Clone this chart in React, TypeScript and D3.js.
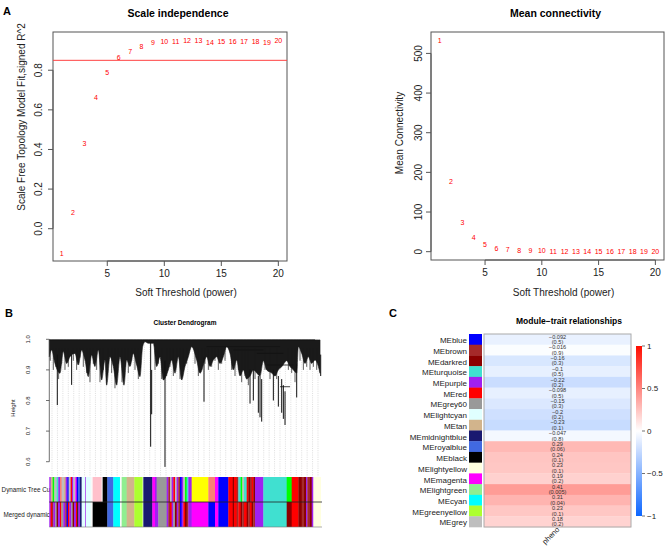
import React from "react";
import * as d3 from "d3";

const FONT = "'Liberation Sans', Arial, Helvetica, sans-serif";

// ---- panel A: soft threshold ----
const powers = [1, 2, 3, 4, 5, 6, 7, 8, 9, 10, 11, 12, 13, 14, 15, 16, 17, 18, 19, 20];
const sftR2 = [-0.123, 0.08, 0.43, 0.66, 0.79, 0.864, 0.896, 0.918, 0.94, 0.945, 0.947, 0.952, 0.95, 0.942, 0.947, 0.945, 0.943, 0.945, 0.938, 0.95];
const meanK = [533, 176, 73, 35, 17, 9, 5.5, 3.6, 2.5, 1.8, 1.4, 1.1, 0.9, 0.7, 0.6, 0.5, 0.45, 0.4, 0.35, 0.3];
const r2Cutoff = 0.85;
const powerTicks = [5, 10, 15, 20];
const fitTicks = [0, 0.2, 0.4, 0.6, 0.8];
const kTicks = [0, 100, 200, 300, 400, 500];

// ---- panel B: dendrogram (leaf order 0..814) ----
const envX = [0, 7, 17, 32, 42, 52, 62, 77, 87, 97, 107, 117, 127, 137, 147, 157, 167, 172, 182, 192, 202, 212, 224, 232, 242, 252, 262, 272, 280, 287, 297, 312, 322, 332, 342, 357, 367, 377, 387, 397, 407, 417, 427, 442, 452, 472, 482, 492, 502, 512, 522, 532, 542, 552, 562, 572, 582, 592, 602, 612, 622, 632, 642, 652, 667, 677, 687, 697, 712, 722, 732, 742, 747, 757, 767, 777, 787, 797, 807, 812];
const envH = [0.943, 0.965, 0.921, 0.889, 0.96, 0.921, 0.943, 0.954, 0.916, 0.965, 0.932, 0.878, 0.949, 0.911, 0.965, 0.867, 0.932, 0.85, 0.943, 0.911, 0.85, 0.943, 0.85, 0.932, 0.911, 0.954, 0.916, 0.878, 0.976, 0.992, 0.987, 0.987, 0.911, 0.943, 0.867, 0.9, 0.932, 0.889, 0.943, 0.867, 0.911, 0.943, 0.976, 0.932, 0.889, 0.943, 0.911, 0.932, 0.943, 0.921, 0.943, 0.976, 0.954, 0.9, 0.932, 0.88, 0.9, 0.87, 0.88, 0.9, 0.89, 0.88, 0.93, 0.9, 0.89, 0.88, 0.9, 0.91, 0.93, 0.911, 0.9, 0.89, 0.976, 0.954, 0.921, 0.943, 0.921, 0.932, 0.911, 0.889];
// single leaves hanging below the dense mass: [leaf, lowest height]
const hairs: [number, number][] = [
  [3, 0.93], [12, 0.9], [20, 0.91], [28, 0.87], [37, 0.92], [47, 0.9], [57, 0.91], [72, 0.93], [82, 0.9],
  [92, 0.94], [102, 0.91], [112, 0.89], [122, 0.86], [132, 0.92], [142, 0.9], [152, 0.86], [162, 0.9],
  [177, 0.92], [187, 0.89], [197, 0.84], [207, 0.92], [218, 0.86], [228, 0.91], [237, 0.89], [247, 0.93],
  [257, 0.9], [267, 0.87], [317, 0.9], [327, 0.92], [337, 0.87], [352, 0.88], [362, 0.91], [372, 0.88],
  [382, 0.93], [392, 0.87], [402, 0.9], [412, 0.92], [437, 0.92], [447, 0.88], [457, 0.9], [467, 0.92],
  [477, 0.9], [487, 0.91], [497, 0.93], [507, 0.9], [517, 0.92], [527, 0.93], [547, 0.9], [557, 0.88],
  [567, 0.9], [577, 0.86], [587, 0.88], [597, 0.85], [617, 0.87], [647, 0.9], [662, 0.87], [682, 0.87],
  [717, 0.9], [727, 0.89], [737, 0.86], [752, 0.93], [762, 0.9], [772, 0.91], [782, 0.9], [792, 0.91], [802, 0.9]
];
// [leaf, from height, to height]
const spikes: [number, number, number][] = [
  [24, 0.95, 0.785], [67, 0.95, 0.851], [304, 0.99, 0.649], [307, 0.9, 0.755], [347, 0.93, 0.583],
  [464, 0.94, 0.796], [602, 0.9, 0.79], [612, 0.9, 0.8], [627, 0.88, 0.76], [632, 0.88, 0.745],
  [637, 0.87, 0.731], [672, 0.9, 0.8], [687, 0.88, 0.78], [697, 0.87, 0.76], [702, 0.85, 0.74],
  [707, 0.83, 0.72], [742, 0.92, 0.81], [814, 0.95, 0.88]
];
// [leaf from, leaf to, height]
const merges: [number, number, number][] = [
  [0, 797, 0.998], [472, 692, 0.976], [552, 642, 0.965], [622, 702, 0.954], [652, 732, 0.916], [692, 722, 0.845]
];
const dendroTicks = [0.6, 0.7, 0.8, 0.9, 1.0];

// colour rows: [start leaf, colour]
const dynStarts = [0, 4, 10, 15, 22, 27, 32, 37, 44, 49, 54, 58, 64, 68, 72, 78, 82, 86, 92, 97, 108, 110, 124, 130, 157, 160, 174, 192, 212, 217, 232, 255, 280, 282, 309, 317, 322, 352, 357, 362, 367, 372, 377, 382, 387, 392, 397, 402, 407, 412, 417, 427, 477, 497, 507, 537, 550, 554, 562, 567, 574, 579, 584, 592, 597, 602, 607, 612, 617, 642, 712, 727, 747, 757, 764, 770, 774, 782, 787, 792];
const dynColors = ["purple", "tan", "green", "grey", "turquoise", "purple", "salmon", "grey", "tan", "purple", "blue", "grey", "red", "purple", "grey", "magenta", "blue", "royalblue", "midnightblue", "lightcyan", "purple", "lightcyan", "white", "pink", "white", "black", "royalblue", "cyan", "white", "lightgreen", "tan", "greenyellow", "white", "midnightblue", "magenta", "purple", "grey60", "purple", "brown", "grey", "purple", "red", "grey", "purple", "brown", "blue", "purple", "grey", "green", "turquoise", "purple", "yellow", "salmon", "magenta", "blue", "red", "darkred", "red", "brown", "turquoise", "green", "grey", "turquoise", "red", "darkred", "brown", "red", "darkred", "purple", "turquoise", "green", "red", "darkred", "brown", "darkred", "purple", "brown", "darkred", "purple", "lightyellow"];
const mrgStarts = [0, 4, 8, 12, 18, 22, 26, 32, 36, 42, 48, 52, 56, 60, 66, 70, 74, 80, 84, 87, 92, 97, 108, 110, 124, 130, 174, 192, 212, 217, 232, 255, 280, 282, 309, 317, 327, 352, 357, 362, 367, 372, 377, 382, 387, 392, 397, 402, 407, 412, 417, 427, 477, 497, 507, 537, 550, 554, 562, 567, 574, 579, 584, 592, 597, 602, 607, 612, 617, 642, 712, 727, 747, 757, 764, 770, 774, 782, 787, 792];
const mrgColors = ["purple", "red", "brown", "purple", "grey60", "darkred", "purple", "red", "grey60", "purple", "brown", "blue", "red", "purple", "grey60", "darkred", "purple", "red", "black", "purple", "midnightblue", "lightcyan", "purple", "lightcyan", "white", "black", "royalblue", "cyan", "white", "lightgreen", "tan", "greenyellow", "white", "midnightblue", "magenta", "purple", "grey60", "purple", "brown", "red", "purple", "grey60", "darkred", "purple", "brown", "blue", "purple", "red", "darkred", "brown", "purple", "magenta", "blue", "magenta", "blue", "red", "darkred", "red", "brown", "red", "darkred", "brown", "red", "darkred", "brown", "red", "darkred", "brown", "purple", "turquoise", "darkred", "red", "darkred", "brown", "darkred", "purple", "brown", "darkred", "purple", "lightyellow"];
const leafCount = 814;

// ---- panel C: module-trait ----
const modules = ["MEblue", "MEbrown", "MEdarkred", "MEturquoise", "MEpurple", "MEred", "MEgrey60", "MElightcyan", "MEtan", "MEmidnightblue", "MEroyalblue", "MEblack", "MElightyellow", "MEmagenta", "MElightgreen", "MEcyan", "MEgreenyellow", "MEgrey"];
const moduleColors = ["blue", "brown", "darkred", "turquoise", "purple", "red", "grey60", "lightcyan", "tan", "midnightblue", "royalblue", "black", "lightyellow", "magenta", "lightgreen", "cyan", "greenyellow", "grey"];
const corValues = [-0.092, -0.016, -0.16, -0.1, -0.22, -0.098, -0.15, -0.2, -0.23, -0.047, 0.29, 0.24, 0.23, 0.19, 0.41, 0.31, 0.23, 0.18];
const pLabels = ["0.5", "0.9", "0.3", "0.5", "0.2", "0.5", "0.3", "0.2", "0.1", "0.8", "0.06", "0.1", "0.1", "0.2", "0.005", "0.04", "0.1", "0.2"];
const legendTicks = [1, 0.5, 0, -0.5, -1];

const rColor: Record<string, string> = {
  purple: "#A020F0", tan: "#D2B48C", green: "#00FF00", grey: "#BEBEBE", grey60: "#999999",
  turquoise: "#40E0D0", salmon: "#FA8072", blue: "#0000FF", red: "#FF0000", magenta: "#FF00FF",
  royalblue: "#4169E1", midnightblue: "#191970", lightcyan: "#E0FFFF", pink: "#FFC0CB",
  black: "#000000", cyan: "#00FFFF", lightgreen: "#90EE90", greenyellow: "#ADFF2F",
  brown: "#A52A2A", yellow: "#FFFF00", darkred: "#8B0000", lightyellow: "#FFFFE0", white: "#FAFAFA"
};

const fmt = (v: number) => (v < 0 ? "\u2212" + String(-v) : String(v));

function ScatterPanel({ values, yTicks, x0, x1, y0, y1, yDomain, title, ylab, ylabX, ylabY, tickX, cutoff }: any) {
  const x = d3.scaleLinear().domain([0.24, 20.76]).range([x0, x1]);
  const y = d3.scaleLinear().domain(yDomain).range([y1, y0]);
  return (
    <g fontFamily={FONT}>
      <text x={(x0 + x1) / 2 + 8} y={17} textAnchor="middle" fontWeight="bold" fontSize={10.5}>{title}</text>
      <rect x={x0} y={y0} width={x1 - x0} height={y1 - y0} fill="none" stroke="#555" strokeWidth={1} />
      {cutoff !== undefined && (
        <line x1={x0} x2={x1} y1={y(cutoff)} y2={y(cutoff)} stroke="#ff4040" strokeWidth={1} />
      )}
      {values.map((v: number, i: number) => (
        <text key={i} x={x(powers[i])} y={y(v)} dy="0.35em" textAnchor="middle" fontSize={7} fill="#ff0000">{powers[i]}</text>
      ))}
      <line x1={x(powerTicks[0])} x2={x(powerTicks[powerTicks.length - 1])} y1={y1} y2={y1} stroke="#555" />
      {powerTicks.map((t) => (
        <g key={t}>
          <line x1={x(t)} x2={x(t)} y1={y1} y2={y1 + 5} stroke="#555" />
          <text x={x(t)} y={y1 + 16} textAnchor="middle" fontSize={10} fill="#222">{t}</text>
        </g>
      ))}
      <line x1={x0} x2={x0} y1={y(yTicks[0])} y2={y(yTicks[yTicks.length - 1])} stroke="#555" />
      {yTicks.map((t: number) => (
        <g key={t}>
          <line x1={x0} x2={x0 - 5} y1={y(t)} y2={y(t)} stroke="#555" />
          <text transform={`translate(${tickX},${y(t)}) rotate(-90)`} textAnchor="middle" fontSize={10} fill="#222">
            {yDomain[1] < 2 ? t.toFixed(1) : t}
          </text>
        </g>
      ))}
      <text x={(x0 + x1) / 2 + 16} y={296} textAnchor="middle" fontSize={10} fill="#222">Soft Threshold (power)</text>
      <text transform={`translate(${ylabX},${ylabY}) rotate(-90)`} textAnchor="middle" fontSize={10} fill="#222">{ylab}</text>
    </g>
  );
}

function Dendrogram() {
  const bx = d3.scaleLinear().domain([0, leafCount]).range([49.3, 320.7]);
  const by = d3.scaleLinear().domain([0.551, 1.0]).range([476.7, 339.3]);
  const env = envX.map((v, i) => [v, envH[i]] as [number, number]);
  const area = d3.area<[number, number]>().x((d) => bx(d[0])).y0(by(0.998)).y1((d) => by(d[1])).curve(d3.curveMonotoneX);
  const guides = d3.range(0, 50).map((i) => (i + 0.5) * (leafCount / 50));
  const row = (starts: number[], colors: string[], yTop: number) =>
    starts.map((s, i) => {
      const e = i < starts.length - 1 ? starts[i + 1] : leafCount;
      return <rect key={i} x={bx(s)} y={yTop} width={bx(e) - bx(s) + 0.3} height={25} fill={rColor[colors[i]]} />;
    });
  return (
    <g fontFamily={FONT}>
      <text x={185} y={325} textAnchor="middle" fontWeight="bold" fontSize={6.5}>Cluster Dendrogram</text>
      {guides.map((g, i) => (
        <line key={i} x1={bx(g)} x2={bx(g)} y1={by(0.99)} y2={476.7} stroke="#c8c8c8" strokeWidth={0.6} strokeDasharray="1,1.2" />
      ))}
      <path d={area(env) || ""} fill="#1a1a1a" stroke="#1a1a1a" strokeWidth={0.6} />
      {hairs.map((h, i) => (
        <line key={i} x1={bx(h[0])} x2={bx(h[0])} y1={by(0.97)} y2={by(h[1])} stroke="#1a1a1a" strokeWidth={0.7} />
      ))}
      {merges.map((m, i) => (
        <line key={i} x1={bx(m[0])} x2={bx(m[1])} y1={by(m[2])} y2={by(m[2])} stroke="#111" strokeWidth={0.8} />
      ))}
      {spikes.map((s, i) => (
        <line key={i} x1={bx(s[0])} x2={bx(s[0])} y1={by(s[1])} y2={by(s[2])} stroke="#111" strokeWidth={1} />
      ))}
      <line x1={49.3} x2={49.3} y1={by(0.6)} y2={by(1.0)} stroke="#333" strokeWidth={0.7} />
      {dendroTicks.map((t) => (
        <g key={t}>
          <line x1={49.3} x2={46} y1={by(t)} y2={by(t)} stroke="#333" strokeWidth={0.7} />
          <text transform={`translate(${30},${by(t)}) rotate(-90)`} textAnchor="middle" fontSize={6} fill="#222">{t.toFixed(1)}</text>
        </g>
      ))}
      <text transform="translate(15,408) rotate(-90)" textAnchor="middle" fontSize={6} fill="#222">Height</text>
      <text x={52} y={492} textAnchor="end" fontSize={6.3} fill="#222">Dynamic Tree Cut</text>
      <text x={50} y={517} textAnchor="end" fontSize={6.3} fill="#222">Merged dynamic</text>
      {row(dynStarts, dynColors, 477)}
      {row(mrgStarts, mrgColors, 502)}
      <line x1={49.3} x2={322} y1={502} y2={502} stroke="#222" strokeWidth={0.8} />
      <line x1={49.3} x2={322} y1={527} y2={527} stroke="#777" strokeWidth={0.6} />
    </g>
  );
}

function ModuleTrait() {
  const color = d3.scaleLinear<string>().domain([-1, 0, 1]).range(["#0D66FF", "#FFFFFF", "#FF0D00"]).interpolate(d3.interpolateRgb);
  const ry = d3.scaleBand().domain(modules).range([334, 527]);
  const ly = d3.scaleLinear().domain([-1, 1]).range([516, 346]);
  const stops = d3.range(0, 11).map((i) => i / 10);
  return (
    <g fontFamily={FONT}>
      <defs>
        <linearGradient id="legendGrad" x1="0" y1="1" x2="0" y2="0">
          {stops.map((s) => (
            <stop key={s} offset={s} stopColor={color(-1 + 2 * s)} />
          ))}
        </linearGradient>
      </defs>
      <text x={569} y={324} textAnchor="middle" fontWeight="bold" fontSize={8.5}>Module{"\u2212"}trait relationships</text>
      {modules.map((m, i) => {
        const yTop = ry(m) as number;
        const h = ry.bandwidth();
        const cy = yTop + h / 2;
        return (
          <g key={m}>
            <rect x={469} y={yTop} width={13} height={h + 0.3} fill={rColor[moduleColors[i]]} />
            <rect x={484} y={yTop} width={147} height={h + 0.3} fill={color(corValues[i])} />
            <text x={467} y={cy + 1} dy="0.35em" textAnchor="end" fontSize={8} fill="#222">{m}</text>
            <text x={557.5} y={cy - 2.7} dy="0.35em" textAnchor="middle" fontSize={5.6} fill="#333">{fmt(corValues[i])}</text>
            <text x={557.5} y={cy + 2.7} dy="0.35em" textAnchor="middle" fontSize={5.6} fill="#333">({pLabels[i]})</text>
          </g>
        );
      })}
      <rect x={484} y={334} width={147} height={193} fill="none" stroke="#aaa" strokeWidth={1} />
      <rect x={636} y={346} width={6} height={170} fill="url(#legendGrad)" />
      {legendTicks.map((t) => (
        <g key={t}>
          <line x1={642} x2={645} y1={ly(t)} y2={ly(t)} stroke="#333" strokeWidth={0.7} />
          <text x={647} y={ly(t)} dy="0.35em" fontSize={8} fill="#222">{fmt(t)}</text>
        </g>
      ))}
      <text transform="translate(560,530) rotate(-45)" textAnchor="end" fontSize={7.5} fill="#222">pheno</text>
    </g>
  );
}

export default function App() {
  return (
    <svg width={669} height={553} style={{ position: "absolute", left: 0, top: 0, background: "#fff" }}>
      <rect width={669} height={553} fill="#fff" />
      <g fontFamily={FONT} fontWeight="bold" fontSize={11}>
        <text x={3} y={15}>A</text>
        <text x={5} y={317}>B</text>
        <text x={389} y={317}>C</text>
      </g>
      <ScatterPanel values={sftR2} yTicks={fitTicks} x0={53} x1={287} y0={32} y1={261} yDomain={[-0.163, 0.993]}
        title="Scale independence" ylab="Scale Free Topology Model Fit,signed R^2" ylabX={25} ylabY={117} tickX={41.5} cutoff={r2Cutoff} />
      <ScatterPanel values={meanK} yTicks={kTicks} x0={431} x1={664} y0={32} y1={260} yDomain={[-21, 554]}
        title="Mean connectivity" ylab="Mean Connectivity" ylabX={403} ylabY={133} tickX={421.5} />
      <Dendrogram />
      <ModuleTrait />
    </svg>
  );
}
